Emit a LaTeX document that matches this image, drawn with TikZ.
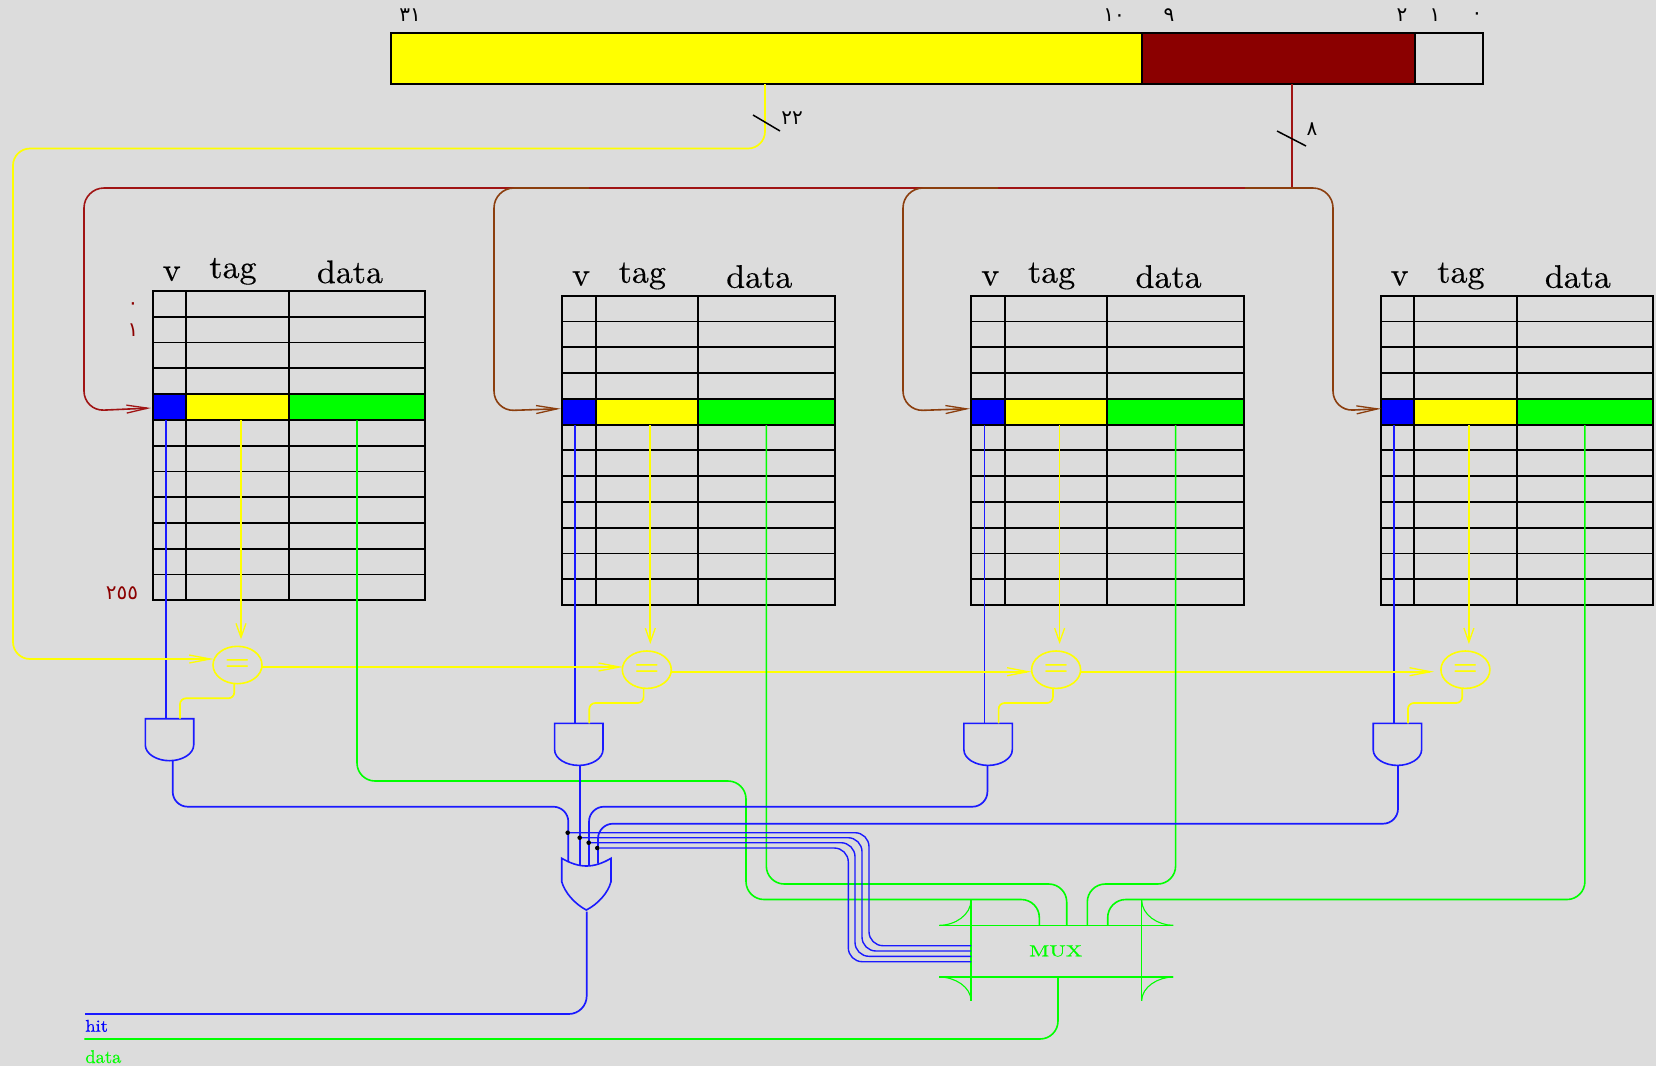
\documentclass[tikz,border=0pt]{standalone}
\usepackage{fontspec}
\usetikzlibrary{shapes.geometric,arrows.meta}
\newfontfamily\arabicfont[Script=Arabic]{DejaVu Sans}
\newfontfamily\heavyfont[FakeBold=0.4]{Latin Modern Roman}
\definecolor{bgc}{HTML}{DCDCDC}
\definecolor{idxred}{HTML}{8B0000}
\definecolor{wirered}{HTML}{A01414}
\definecolor{wirebrown}{HTML}{8B3E0E}
\definecolor{wblue}{HTML}{1A1AFF}
\definecolor{ryellow}{HTML}{FFFF00}
\definecolor{rgreen}{HTML}{00FF00}
\definecolor{rblue}{HTML}{0000FF}
\tikzset{
  box/.style={draw=black,line width=1.8pt,inner sep=0pt,outer sep=0pt,anchor=north west},
  cellbox/.style={draw=black,line width=1.8pt,inner sep=0pt,outer sep=0pt,anchor=north west,minimum height=25.78pt},
  head/.style={font=\heavyfont\fontsize{10}{12}\selectfont,anchor=base,inner sep=0pt,xscale=3.4,yscale=3.25,transform shape},
  num/.style={font=\arabicfont\fontsize{20}{24}\selectfont,inner sep=0pt},
  rednum/.style={num,text=idxred},
  ywire/.style={draw=ryellow,line width=1.7pt,rounded corners=17pt},
  gwire/.style={draw=rgreen,line width=1.6pt,rounded corners=18pt},
  bwire/.style={draw=wblue,line width=1.7pt,rounded corners=18pt},
  sel/.style={bwire,rounded corners=14pt,line width=1.4pt},
  rwire/.style={line width=1.6pt,rounded corners=20pt},
  longtip/.style={-{Straight Barb[length=21pt,width=8pt,line width=1.3pt]}},
  shorttip/.style={-{Straight Barb[length=14pt,width=10pt,line width=1.3pt]}},
  slash/.style={draw=black,line width=1.5pt},
  cmpnode/.style={ellipse,draw=ryellow,line width=1.6pt,minimum width=49pt,minimum height=37.4pt,inner sep=0pt,text=ryellow,font=\bfseries\fontsize{10}{12}\selectfont},
  gate/.style={draw=wblue,line width=1.6pt},
  dot/.style={circle,fill=black,inner sep=0pt,minimum size=4.6pt},
  mline/.style={draw=rgreen,line width=1.3pt},
  mcurve/.style={draw=rgreen,line width=1.1pt},
}
\begin{document}
\begin{tikzpicture}[x=1pt,y=-1pt]
\useasboundingbox (0,0) rectangle (1656,1066);
\fill[bgc] (0,0) rectangle (1656,1066);

% address register
\node[box,fill=ryellow,minimum width=750.7pt,minimum height=51pt] (rtag) at (391,33) {};
\node[box,fill=idxred,minimum width=273.3pt,minimum height=51pt] (rindex) at (1141.7,33) {};
\node[box,minimum width=68pt,minimum height=51pt] (roff) at (1415,33) {};
\node[num] (b31) at (410,15) {٣١};
\node[num] (b10) at (1114,15) {١٠};
\node[num] (b9) at (1169,15) {٩};
\node[num] (b2) at (1402,15) {٢};
\node[num] (b1) at (1435,15) {١};
\node[num] (b0) at (1477,16) {٠};
\node[num] (n22) at (792,118) {٢٢};
\node[num] (n8) at (1312,129) {٨};
\node[rednum] (r0) at (133,306) {٠};
\node[rednum] (r1) at (133,330) {١};
\node[rednum] (r255) at (122,593) {٢٥٥};

% tables, comparators, and gates
\foreach \i/\dx/\dy in {1/0/0,2/409.3/4.7,3/818.6/4.7,4/1227.9/4.7}{
  \begin{scope}[shift={(\dx,\dy)}]
    \foreach \r in {0,...,11}{
      \pgfmathsetmacro{\ry}{291+25.78*\r}
      \ifnum\r=4\relax
        \node[cellbox,fill=rblue,minimum width=33.6pt] (v\i-\r) at (152.7,\ry) {};
        \node[cellbox,fill=ryellow,minimum width=102.4pt] (t\i-\r) at (186.3,\ry) {};
        \node[cellbox,fill=rgreen,minimum width=136.6pt] (d\i-\r) at (288.7,\ry) {};
      \else
        \node[cellbox,minimum width=33.6pt] (v\i-\r) at (152.7,\ry) {};
        \node[cellbox,minimum width=102.4pt] (t\i-\r) at (186.3,\ry) {};
        \node[cellbox,minimum width=136.6pt] (d\i-\r) at (288.7,\ry) {};
      \fi
    }
    \node[head] (hv\i) at (171.7,280.7) {v};
    \node[head] (ht\i) at (233,278) {tag};
    \node[head] (hd\i) at (350,283) {data};
    \node[cmpnode] (cmp\i) at (237.5,665) {\scalebox{2.8}{=}};
    \draw[gate] (145.3,718.7) coordinate (and\i) -- (193.7,718.7) -- (193.7,745)
      .. controls (193.7,754) and (182,760.7) .. (169.5,760.7)
      .. controls (157,760.7) and (145.3,754) .. (145.3,745) -- cycle;
    \coordinate (vout\i) at (166,420.4);
    \coordinate (vin\i) at (166,718.7);
    \coordinate (tout\i) at (241,420.4);
    \coordinate (tin\i) at (241,639.3);
    \coordinate (dout\i) at (357,420.4);
    \coordinate (eqb\i) at (234.3,683.7);
    \coordinate (eqa\i) at (180,718.7);
    \draw[bwire] (vout\i) -- (vin\i);
    \draw[ywire,shorttip] (tout\i) -- (tin\i);
    \draw[ywire,rounded corners=6pt] (eqb\i) -- (234.3,698.3) -- (180,698.3) -- (eqa\i);
  \end{scope}
}
\coordinate (andout1) at (172.7,760.7);
\coordinate (andout2) at (580,765.4);
\coordinate (andout3) at (987.4,765.4);
\coordinate (andout4) at (1398,765.4);

% index wires
\coordinate (rindexout) at (1292,84);
\coordinate (split) at (1292,188);
\coordinate (tipa) at (151,408);
\coordinate (tipb) at (560.6,408.7);
\coordinate (tipc) at (970,408.7);
\coordinate (tipd) at (1381,408.7);
\draw[wirered,line width=1.6pt] (rindexout) -- (split);
\draw[wirered,rwire,longtip] (split) -- (84,188) -- (84,411) -- (tipa);
\draw[wirebrown,rwire,longtip] (589,188) -- (494,188) -- (494,411) -- (tipb);
\draw[wirebrown,rwire,longtip] (998,188) -- (903,188) -- (903,411) -- (tipc);
\draw[wirebrown,rwire,longtip] (1245,188) -- (1333,188) -- (1333,411) -- (tipd);
\coordinate (s8a) at (1277,131);
\coordinate (s8b) at (1306,146);
\draw[slash] (s8a) -- (s8b);

% tag wires
\coordinate (rtagout) at (765,84);
\coordinate (s22a) at (753,115);
\coordinate (s22b) at (780,131);
\coordinate (cmpin) at (213.7,659);
\draw[ywire,longtip] (rtagout) -- (765,148.5) -- (13,148.5) -- (13,659) -- (cmpin);
\draw[slash] (s22a) -- (s22b);
\coordinate (c1out) at (262,667);
\coordinate (c2in) at (623,667);
\coordinate (c2out) at (671.3,671.7);
\coordinate (c3in) at (1031.5,671.7);
\coordinate (c3out) at (1080.6,671.7);
\coordinate (c4in) at (1434,671.7);
\draw[ywire,longtip] (c1out) -- (c2in);
\draw[ywire,longtip] (c2out) -- (c3in);
\draw[ywire,longtip] (c3out) -- (c4in);

% multiplexer
\node[text=rgreen,font=\heavyfont\fontsize{10}{12}\selectfont,xscale=2.2,yscale=1.6,transform shape,inner sep=0pt] (mux) at (1055.7,951) {MUX};
\draw[mline] (939.3,925.3) coordinate (mtl) -- (1173.3,925.3) coordinate (mtr);
\draw[mline] (939.3,977) coordinate (mbl) -- (1173.3,977) coordinate (mbr);
\draw[mline] (971,900) coordinate (mvl) -- (971,1000.7) coordinate (mvlb);
\draw[mline] (1141.7,900) coordinate (mvr) -- (1141.7,1000.7) coordinate (mvrb);
\draw[mcurve] (mvl) .. controls (971,915) and (955,925.3) .. (mtl);
\draw[mcurve] (mvr) .. controls (1141.7,915) and (1158,925.3) .. (mtr);
\draw[mcurve] (mbl) .. controls (955,977) and (971,987) .. (mvlb);
\draw[mcurve] (mbr) .. controls (1158,977) and (1141.7,987) .. (mvrb);

% data wires
\coordinate (pa) at (1039.3,925.3);
\coordinate (pb) at (1066.7,925.3);
\coordinate (pc) at (1087.3,925.3);
\coordinate (pd) at (1107.7,925.3);
\draw[gwire] (dout1) -- (357,781) -- (746,781) -- (746,899.5) -- (1039.3,899.5) -- (pa);
\draw[gwire] (dout2) -- (766.3,884) -- (1066.7,884) -- (pb);
\draw[gwire] (dout3) -- (1175.6,884) -- (1087.3,884) -- (pc);
\draw[gwire] (dout4) -- (1584.9,899.5) -- (1107.7,899.5) -- (pd);

% OR gate
\draw[gate] (561.7,858.3) coordinate (ortl)
  .. controls (570,863) and (578,866) .. (586.3,866)
  .. controls (595,866) and (603,863) .. (611,858.3)
  -- (611,881.7) .. controls (608,893) and (598,904) .. (586.3,910)
  .. controls (575,904) and (565,893) .. (561.7,881.7) -- cycle;
\coordinate (ora) at (568.3,862);
\coordinate (orb) at (580,865);
\coordinate (orc) at (589,865.5);
\coordinate (ord) at (598,863.5);
\coordinate (orout) at (586.7,911.7);
\draw[bwire,rounded corners=15pt] (andout1) -- (172.7,806.7) -- (568.3,806.7) -- (ora);
\draw[bwire] (andout2) -- (orb);
\draw[bwire,rounded corners=15pt] (andout3) -- (987.4,806.7) -- (589,806.7) -- (orc);
\draw[bwire,rounded corners=15pt] (andout4) -- (1398,823.7) -- (598,823.7) -- (ord);

% select lines
\node[dot] (da) at (567.7,832.7) {};
\node[dot] (db) at (579.7,837.7) {};
\node[dot] (dc) at (588.7,842.7) {};
\node[dot] (dd) at (597.3,848) {};
\coordinate (ma) at (971,945.7);
\coordinate (mb) at (971,951);
\coordinate (mc) at (971,956.3);
\coordinate (md) at (971,961.7);
\draw[sel] (da) -- (869,832.7) -- (869,945.7) -- (ma);
\draw[sel] (db) -- (862,837.7) -- (862,951) -- (mb);
\draw[sel] (dc) -- (855,842.7) -- (855,956.3) -- (mc);
\draw[sel] (dd) -- (848.3,848) -- (848.3,961.7) -- (md);

% outputs
\coordinate (hitend) at (85,1014);
\coordinate (dataend) at (84.3,1039);
\coordinate (muxout) at (1058,977);
\draw[bwire] (orout) -- (586.7,1014) -- (hitend);
\draw[gwire] (muxout) -- (1058,1039) -- (dataend);
\node[text=rblue,font=\heavyfont\fontsize{10}{12}\selectfont,anchor=base west,inner sep=0pt,xscale=1.85,yscale=1.7,transform shape] (hit) at (85,1031.7) {hit};
\node[text=rgreen,font=\heavyfont\fontsize{10}{12}\selectfont,anchor=base west,inner sep=0pt,scale=1.85,transform shape] (data) at (85,1063) {data};
\end{tikzpicture}
\end{document}
